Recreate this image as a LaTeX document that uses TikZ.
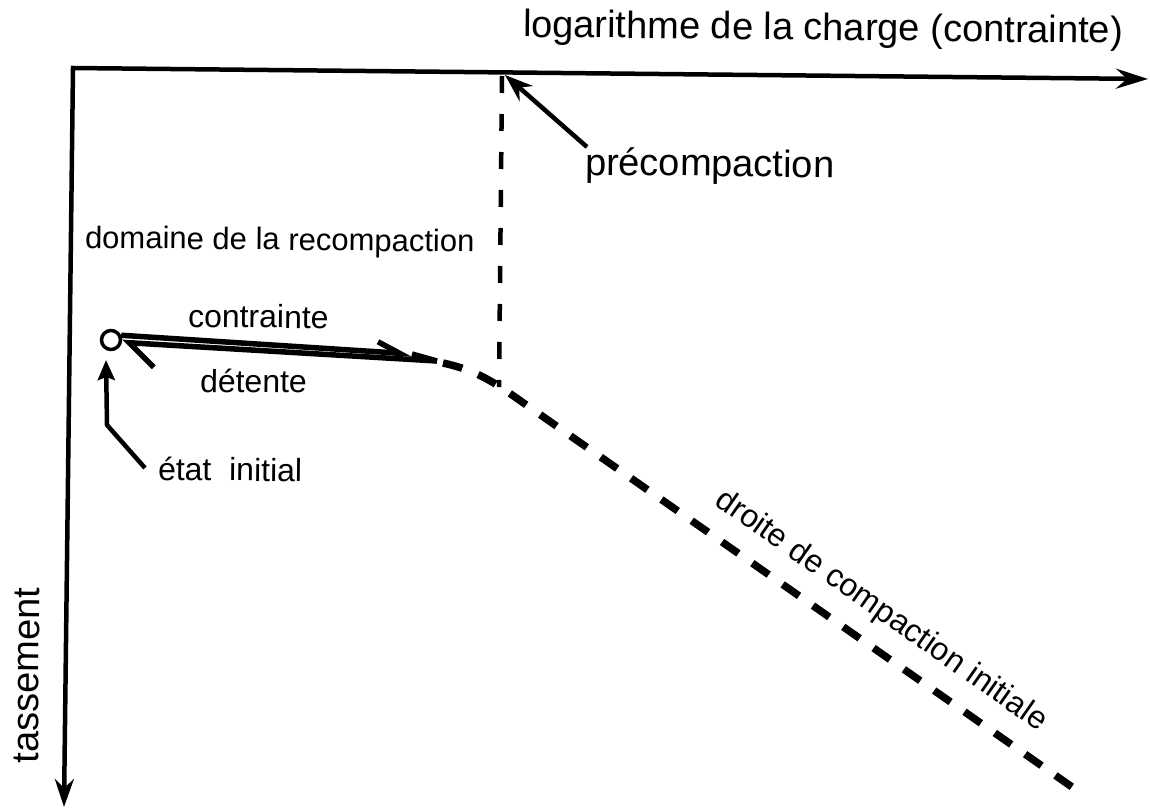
\documentclass[tikz,border=0pt]{standalone}
\usepackage{fontspec}
\setmainfont{Liberation Sans}
\usetikzlibrary{arrows.meta}
\begin{document}
\begin{tikzpicture}[x=1pt,y=-1pt,
  axisline/.style={line width=4.5pt,line join=miter},
  big/.style={inner sep=0pt,outer sep=0pt,font=\fontsize{38}{44}\selectfont},
  small/.style={inner sep=0pt,outer sep=0pt,font=\fontsize{32}{38}\selectfont},
  hlab/.style={anchor=base west,rotate=-0.6},
  conn/.style={line width=4.5pt},
  cycle/.style={line width=5.5pt},
  thinconn/.style={line width=4.5pt},
  vdash/.style={line width=4.5pt,dash pattern=on 17pt off 21pt},
  cdash/.style={line width=7.5pt,dash pattern=on 20pt off 17pt},
]
\useasboundingbox (0,0) rectangle (1150,808);
% axes
\coordinate (O) at (73,68);
\coordinate (xend) at (1148,79);
\coordinate (yend) at (64,807);
\draw[axisline,{Stealth[length=28pt,width=19pt,inset=9pt]}-{Stealth[length=32pt,width=20pt,inset=11pt]}] (yend) -- (O) -- (xend);
\node[big,hlab] (xlab) at (523,37) {logarithme de la charge (contrainte)};
\node[big,anchor=base west,rotate=89.4] (ylab) at (38,763) {tassement};
% precompaction
\coordinate (ptop) at (502,76);
\coordinate (pbot) at (499,387);
\draw[vdash] (ptop) -- (pbot);
\node[big,hlab] (prec) at (585,175) {précompaction};
\coordinate (pstart) at (587,147);
\coordinate (ptip) at (505,75);
\draw[conn,-{Stealth[length=28pt,width=20pt,inset=9pt]}] (pstart) -- (ptip);
\node[small,hlab,font=\fontsize{31}{36}\selectfont] (dom) at (85,248) {domaine de la recompaction};
% initial state and cycle
\node[circle,draw,line width=3.5pt,minimum size=19pt,inner sep=0pt] (c) at (111,340) {};
\coordinate (ctip) at (412,354);
\coordinate (junc) at (437,361);
\draw[cycle,-{Straight Barb[left,length=22pt,width=20pt]}] (c.25) -- (ctip);
\draw[cycle] (ctip) -- (junc);
\draw[cycle,-{Straight Barb[left,length=26pt,width=46pt]}] (junc) -- (c.-12);
\node[small,hlab] (ctr) at (188,327) {contrainte};
\node[small,hlab] (det) at (200,392) {détente};
\node[small,hlab] (etat) at (158,480) {état\ \ initial};
\coordinate (estart) at (145,468);
\coordinate (ebend) at (107,425);
\coordinate (etip) at (106,360);
\draw[thinconn,line join=miter,-{Stealth[length=20pt,width=17pt,inset=3pt]}] (estart) -- (ebend) -- (etip);
% compaction line
\coordinate (dstart) at (443,363);
\coordinate (bend) at (505,390);
\coordinate (dend) at (1072,787);
\draw[cdash] (dstart) .. controls (470,369) and (485,377) .. (bend) -- (dend);
\node[small,rotate=-35,anchor=center] (droite) at (881,611) {droite de compaction initiale};
\end{tikzpicture}
\end{document}
